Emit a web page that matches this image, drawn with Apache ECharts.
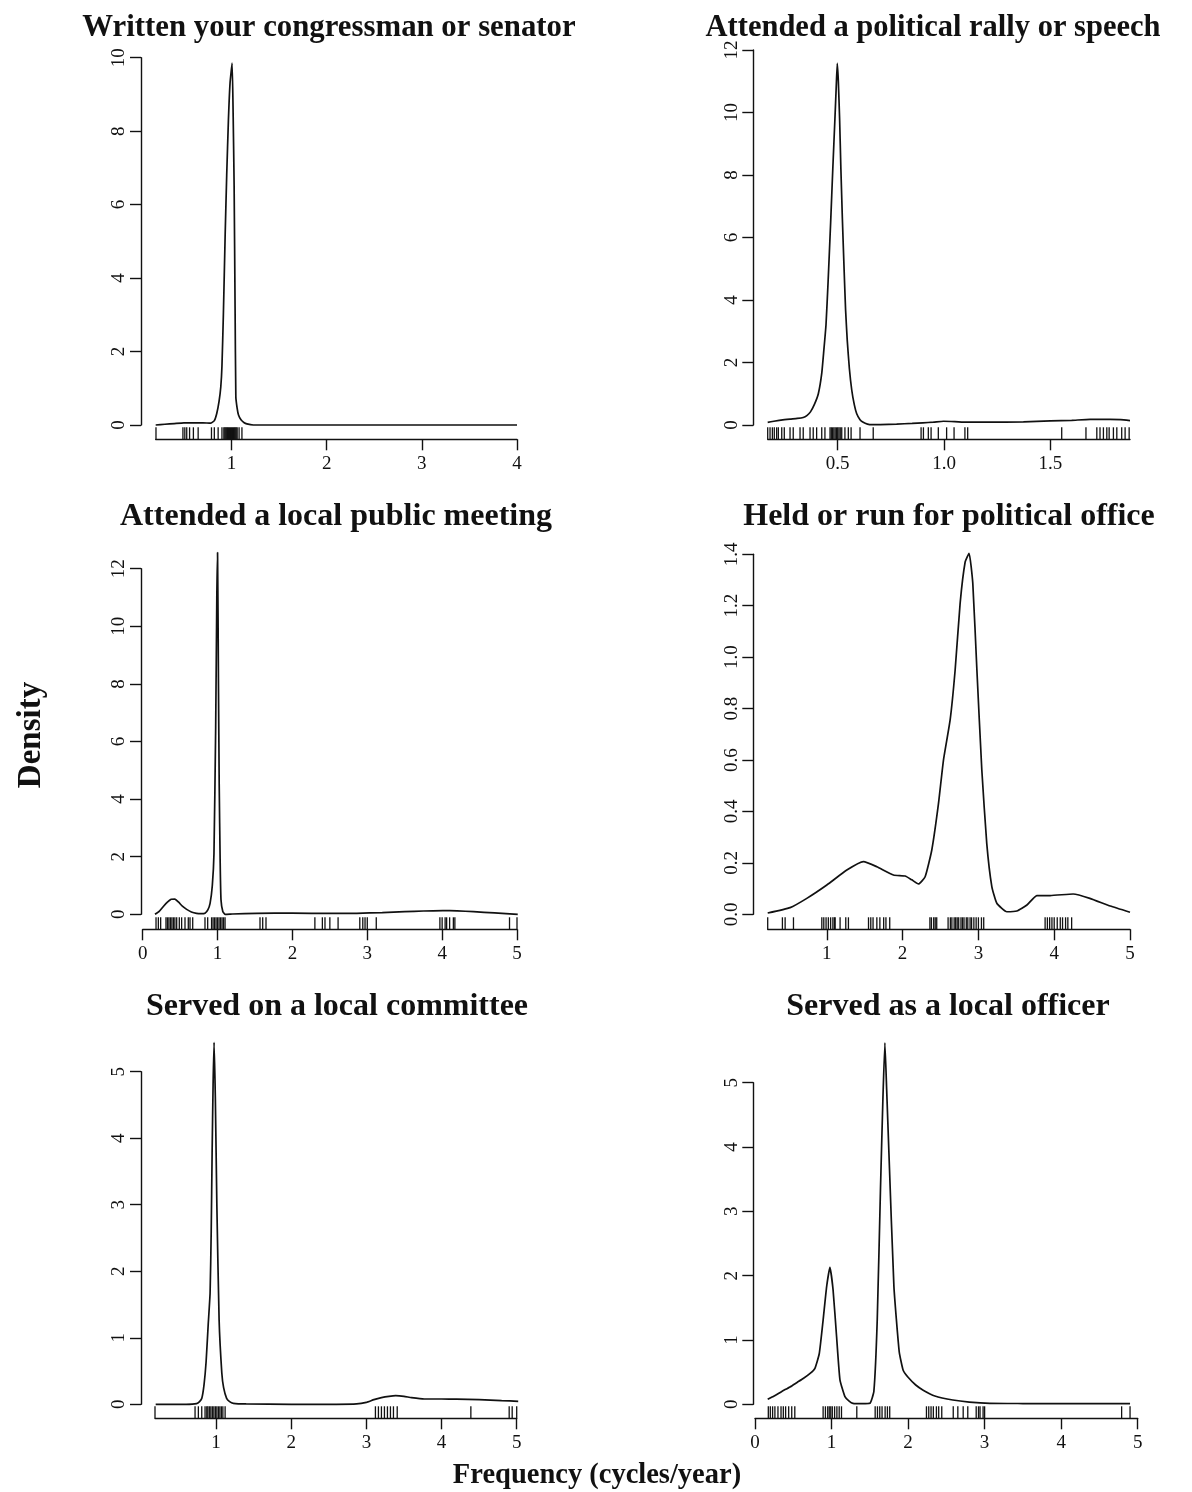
<!DOCTYPE html>
<html>
<head>
<meta charset="utf-8">
<script src="https://cdn.jsdelivr.net/npm/echarts@6/dist/echarts.min.js"></script>
<style>
  html, body { margin: 0; padding: 0; background: #fff; }
  #chart { width: 1192px; height: 1492px; }
</style>
</head>
<body>
<div id="chart"></div>
<script>
// 1. Data
const titles = [
    'Written your congressman or senator',
    'Attended a political rally or speech',
    'Attended a local public meeting',
    'Held or run for political office',
    'Served on a local committee',
    'Served as a local officer'
];

// Written your congressman or senator
const writtenX = [0.204, 0.3, 0.4, 0.5, 0.6, 0.7, 0.78, 0.82, 0.846, 0.87, 0.888, 0.9, 0.915, 0.934, 0.95, 0.968, 0.985, 1.007, 1.018, 1.028, 1.038, 1.046, 1.06, 1.074, 1.1, 1.13, 1.162, 1.23, 1.5, 2, 3, 4.0];
const writtenY = [0.0, 0.02, 0.04, 0.06, 0.06, 0.06, 0.05, 0.12, 0.32, 0.65, 1.04, 1.6, 3.0, 5.2, 6.8, 8.3, 9.3, 9.85, 8.4, 6.5, 3.2, 0.77, 0.45, 0.27, 0.14, 0.07, 0.03, 0.0, 0, 0, 0, 0];
const writtenRug = [0.207, 0.49, 0.51, 0.53, 0.56, 0.60, 0.65, 0.79, 0.82, 0.86, 0.90, 0.92, 0.93, 0.94, 0.95, 0.96, 0.97, 0.98, 0.99, 1.0, 1.01, 1.02, 1.03, 1.04, 1.05, 1.06, 1.08, 1.11];
const writtenXRange = [0.204, 4];
const writtenXTicks = [1, 2, 3, 4];
const writtenYTicks = [0, 2, 4, 6, 8, 10];

// Attended a political rally or speech
const rallyX = [0.171, 0.2, 0.25, 0.276, 0.31, 0.338, 0.355, 0.372, 0.39, 0.409, 0.425, 0.435, 0.445, 0.455, 0.467, 0.477, 0.487, 0.493, 0.498, 0.503, 0.509, 0.515, 0.522, 0.53, 0.537, 0.545, 0.555, 0.566, 0.578, 0.589, 0.605, 0.62, 0.64, 0.66, 0.7, 0.777, 0.85, 0.9, 0.95, 0.997, 1.05, 1.106, 1.2, 1.373, 1.5, 1.6, 1.686, 1.78, 1.83, 1.874];
const rallyY = [0.085, 0.12, 0.17, 0.19, 0.21, 0.24, 0.3, 0.42, 0.65, 1.0, 1.65, 2.4, 3.2, 4.6, 6.5, 8.2, 9.8, 10.8, 11.57, 11.0, 9.8, 8.2, 6.6, 5.0, 3.7, 2.7, 1.8, 1.12, 0.65, 0.37, 0.17, 0.085, 0.03, 0.01, 0.012, 0.03, 0.05, 0.07, 0.09, 0.12, 0.11, 0.09, 0.09, 0.1, 0.13, 0.15, 0.18, 0.18, 0.17, 0.14];
const rallyRug = [0.171, 0.182, 0.193, 0.202, 0.213, 0.221, 0.237, 0.249, 0.276, 0.291, 0.323, 0.338, 0.37, 0.385, 0.401, 0.425, 0.44, 0.464, 0.47, 0.476, 0.482, 0.488, 0.494, 0.5, 0.506, 0.512, 0.519, 0.534, 0.55, 0.563, 0.605, 0.667, 0.892, 0.903, 0.926, 0.939, 0.973, 1.012, 1.047, 1.098, 1.111, 1.553, 1.667, 1.718, 1.733, 1.749, 1.765, 1.776, 1.796, 1.812, 1.835, 1.851, 1.87];
const rallyXRange = [0.171, 1.874];
const rallyXTicks = [0.5, 1.0, 1.5];
const rallyYTicks = [0, 2, 4, 6, 8, 10, 12];

// Attended a local public meeting
const meetingX = [0.164, 0.22, 0.276, 0.33, 0.38, 0.43, 0.48, 0.53, 0.587, 0.65, 0.72, 0.78, 0.832, 0.87, 0.9, 0.93, 0.952, 0.975, 0.99, 1.0, 1.012, 1.022, 1.035, 1.046, 1.07, 1.1, 1.2, 1.52, 2.0, 2.5, 2.86, 3.2, 3.5, 3.75, 4.01, 4.2, 4.42, 4.7, 5.01];
const meetingY = [0.0, 0.1, 0.27, 0.42, 0.52, 0.53, 0.42, 0.28, 0.17, 0.08, 0.03, 0.02, 0.035, 0.15, 0.38, 1.0, 2.1, 6.5, 11.0, 12.56, 8.0, 4.5, 1.8, 0.5, 0.1, 0.0, 0.01, 0.035, 0.04, 0.03, 0.035, 0.06, 0.09, 0.115, 0.127, 0.12, 0.09, 0.05, 0.0];
const meetingRug = [0.178, 0.209, 0.24, 0.311, 0.33, 0.35, 0.37, 0.39, 0.41, 0.43, 0.454, 0.489, 0.52, 0.565, 0.609, 0.632, 0.668, 0.832, 0.868, 0.92, 0.94, 0.96, 0.98, 1.0, 1.02, 1.04, 1.06, 1.08, 1.1, 1.567, 1.603, 1.647, 2.3, 2.4, 2.435, 2.5, 2.61, 2.9, 2.94, 2.97, 3.0, 3.12, 3.97, 4.0, 4.04, 4.06, 4.1, 4.15, 4.17, 4.9, 5.0];
const meetingXRange = [0, 5];
const meetingXTicks = [0, 1, 2, 3, 4, 5];
const meetingYTicks = [0, 2, 4, 6, 8, 10, 12];

// Held or run for political office
const officeX = [0.22, 0.516, 0.736, 1.0, 1.264, 1.483, 1.66, 1.879, 2.033, 2.121, 2.21, 2.297, 2.385, 2.473, 2.539, 2.627, 2.693, 2.759, 2.825, 2.877, 2.926, 2.98, 3.045, 3.11, 3.177, 3.243, 3.375, 3.507, 3.64, 3.77, 3.946, 4.25, 4.47, 4.74, 5.0];
const officeY = [0.005, 0.026, 0.062, 0.114, 0.172, 0.205, 0.185, 0.153, 0.149, 0.134, 0.118, 0.146, 0.25, 0.43, 0.6, 0.756, 0.95, 1.21, 1.37, 1.404, 1.287, 0.95, 0.561, 0.276, 0.108, 0.043, 0.01, 0.013, 0.036, 0.073, 0.073, 0.079, 0.062, 0.032, 0.008];
const officeRug = [0.22, 0.414, 0.45, 0.56, 0.934, 0.96, 0.99, 1.02, 1.05, 1.08, 1.1, 1.11, 1.175, 1.25, 1.285, 1.55, 1.58, 1.61, 1.66, 1.70, 1.75, 1.78, 1.83, 2.36, 2.38, 2.41, 2.43, 2.45, 2.6, 2.63, 2.65, 2.68, 2.7, 2.72, 2.74, 2.77, 2.79, 2.81, 2.84, 2.86, 2.89, 2.91, 2.94, 2.97, 3.0, 3.04, 3.07, 3.88, 3.91, 3.94, 3.97, 4.0, 4.04, 4.08, 4.11, 4.15, 4.18, 4.23];
const officeXRange = [0.22, 5];
const officeXTicks = [1, 2, 3, 4, 5];
const officeYTicks = [0, 0.2, 0.4, 0.6, 0.8, 1.0, 1.2, 1.4];

// Served on a local committee
const committeeX = [0.196, 0.4, 0.6, 0.74, 0.78, 0.81, 0.84, 0.867, 0.895, 0.92, 0.935, 0.947, 0.96, 0.973, 0.99, 1.01, 1.04, 1.076, 1.1, 1.14, 1.18, 1.23, 1.4, 2.0, 2.6, 2.87, 3.0, 3.1, 3.2, 3.3, 3.39, 3.5, 3.6, 3.77, 4.0, 4.2, 4.5, 4.8, 5.02];
const committeeY = [0, 0, 0, 0.01, 0.04, 0.09, 0.3, 0.64, 1.2, 1.67, 2.6, 3.77, 4.8, 5.44, 4.6, 3.0, 1.27, 0.47, 0.25, 0.09, 0.04, 0.015, 0.005, 0, 0, 0.005, 0.03, 0.07, 0.1, 0.12, 0.13, 0.12, 0.1, 0.08, 0.08, 0.078, 0.07, 0.055, 0.045];
const committeeRug = [0.187, 0.72, 0.764, 0.809, 0.853, 0.876, 0.89, 0.91, 0.93, 0.95, 0.97, 0.99, 1.01, 1.03, 1.05, 1.07, 1.09, 1.12, 3.12, 3.16, 3.2, 3.24, 3.28, 3.32, 3.36, 3.41, 4.39, 4.9, 4.94, 5.0];
const committeeXRange = [0.187, 5];
const committeeXTicks = [1, 2, 3, 4, 5];
const committeeYTicks = [0, 1, 2, 3, 4, 5];

// Served as a local officer
const officerX = [0.166, 0.25, 0.35, 0.457, 0.55, 0.63, 0.72, 0.783, 0.84, 0.89, 0.936, 0.979, 1.02, 1.066, 1.11, 1.175, 1.23, 1.28, 1.4, 1.5, 1.553, 1.597, 1.64, 1.67, 1.697, 1.72, 1.75, 1.815, 1.884, 1.936, 2.0, 2.1, 2.197, 2.35, 2.585, 2.8, 3.07, 3.5, 4.0, 4.5, 4.9];
const officerY = [0.078, 0.13, 0.2, 0.27, 0.34, 0.4, 0.48, 0.56, 0.79, 1.31, 1.83, 2.13, 1.78, 1.05, 0.38, 0.12, 0.05, 0.015, 0.01, 0.015, 0.2, 1.31, 3.38, 4.7, 5.62, 4.9, 3.9, 1.83, 0.82, 0.53, 0.42, 0.3, 0.22, 0.13, 0.067, 0.035, 0.015, 0.012, 0.01, 0.01, 0.01];
const officerRug = [0.174, 0.2, 0.23, 0.26, 0.3, 0.34, 0.37, 0.4, 0.44, 0.48, 0.52, 0.89, 0.92, 0.95, 0.97, 0.99, 1.01, 1.04, 1.07, 1.1, 1.13, 1.33, 1.57, 1.6, 1.63, 1.66, 1.7, 1.73, 1.76, 2.24, 2.27, 2.3, 2.33, 2.37, 2.4, 2.44, 2.59, 2.65, 2.72, 2.78, 2.89, 2.92, 2.94, 2.98, 3.0, 4.79, 4.9];
const officerXRange = [0, 5];
const officerXTicks = [0, 1, 2, 3, 4, 5];
const officerYTicks = [0, 1, 2, 3, 4, 5];

// 2. Panels and their placement (pixels)
const panels = [
    { x: writtenX, y: writtenY, rug: writtenRug, xRange: writtenXRange, xTicks: writtenXTicks, yTicks: writtenYTicks, xDec: 0, yDec: 0 },
    { x: rallyX, y: rallyY, rug: rallyRug, xRange: rallyXRange, xTicks: rallyXTicks, yTicks: rallyYTicks, xDec: 1, yDec: 0 },
    { x: meetingX, y: meetingY, rug: meetingRug, xRange: meetingXRange, xTicks: meetingXTicks, yTicks: meetingYTicks, xDec: 0, yDec: 0 },
    { x: officeX, y: officeY, rug: officeRug, xRange: officeXRange, xTicks: officeXTicks, yTicks: officeYTicks, xDec: 0, yDec: 1 },
    { x: committeeX, y: committeeY, rug: committeeRug, xRange: committeeXRange, xTicks: committeeXTicks, yTicks: committeeYTicks, xDec: 0, yDec: 0 },
    { x: officerX, y: officerY, rug: officerRug, xRange: officerXRange, xTicks: officerXTicks, yTicks: officerYTicks, xDec: 0, yDec: 0 }
];

// grid = extent of the axis lines; yOff/xOff = gap between data origin and drawn axes
const layout = [
    { left: 155.7, top: 57.7,   width: 361.3, height: 367.3, yOff: 14.7, xOff: 14.3, tx: 329, ty: 28,   ts: 30.8 },
    { left: 767.7, top: 50,     width: 362.3, height: 375,   yOff: 14.4, xOff: 14.3, tx: 933, ty: 28,   ts: 30.5 },
    { left: 142.7, top: 568.7,  width: 374.3, height: 345.6, yOff: 1.7,  xOff: 15,   tx: 336, ty: 517,  ts: 32 },
    { left: 767.7, top: 554.3,  width: 362.3, height: 360,   yOff: 14.4, xOff: 15,   tx: 949, ty: 517,  ts: 32 },
    { left: 155,   top: 1071.7, width: 361.7, height: 332.6, yOff: 14,   xOff: 14,   tx: 337, ty: 1007, ts: 32 },
    { left: 755,   top: 1082.7, width: 382.7, height: 321.6, yOff: 1.7,  xOff: 14,   tx: 948, ty: 1007, ts: 32 }
];

const FONT = '"Liberation Serif", "Times New Roman", serif';
const INK = '#111';

const grids = [], xAxes = [], yAxes = [], series = [], titleList = [];

panels.forEach((p, i) => {
    const L = layout[i];
    grids.push({ left: L.left, top: L.top, width: L.width, height: L.height, containLabel: false, outerBoundsMode: 'none' });

    xAxes.push({
        gridIndex: i, type: 'value', min: p.xRange[0], max: p.xRange[1], offset: L.xOff,
        axisLine: { show: true, onZero: false, lineStyle: { color: INK, width: 1.4 } },
        axisTick: { show: true, length: 11, customValues: p.xTicks, lineStyle: { color: INK, width: 1.4 } },
        axisLabel: {
            customValues: p.xTicks, margin: 15, color: INK, fontFamily: FONT, fontSize: 19,
            formatter: v => Number(v).toFixed(p.xDec)
        },
        splitLine: { show: false }
    });

    yAxes.push({
        gridIndex: i, type: 'value', min: p.yTicks[0], max: p.yTicks[p.yTicks.length - 1], offset: L.yOff,
        axisLine: { show: true, onZero: false, lineStyle: { color: INK, width: 1.4 } },
        axisTick: { show: true, length: 11, customValues: p.yTicks, lineStyle: { color: INK, width: 1.4 } },
        axisLabel: {
            customValues: p.yTicks, margin: 12, rotate: 90, color: INK, fontFamily: FONT, fontSize: 19,
            formatter: v => Number(v).toFixed(p.yDec)
        },
        splitLine: { show: false }
    });

    // density curve
    series.push({
        type: 'line', xAxisIndex: i, yAxisIndex: i,
        data: p.x.map((v, k) => [v, p.y[k]]),
        symbol: 'none', smooth: 0.15, clip: false, silent: true,
        lineStyle: { color: INK, width: 1.7 }
    });

    // rug marks under the curve
    series.push({
        type: 'scatter', xAxisIndex: i, yAxisIndex: i,
        data: p.rug.map(v => [v, 0]),
        symbol: 'rect', symbolSize: [1.3, 12], symbolOffset: [0, L.xOff - 6],
        clip: false, silent: true,
        itemStyle: { color: INK, opacity: 1 }
    });

    titleList.push({
        text: titles[i], left: L.tx, top: L.ty, textAlign: 'center', textVerticalAlign: 'middle', padding: 0,
        textStyle: { fontFamily: FONT, fontWeight: 'bold', fontSize: L.ts, color: INK }
    });
});

// 3. Build chart
const chart = echarts.init(document.getElementById('chart'), null, { renderer: 'canvas' });
chart.setOption({
    backgroundColor: '#fff',
    animation: false,
    title: titleList,
    grid: grids,
    xAxis: xAxes,
    yAxis: yAxes,
    series: series,
    graphic: [
        {
            type: 'text', x: 31, y: 735, rotation: Math.PI / 2,
            style: { text: 'Density', fontFamily: FONT, fontWeight: 'bold', fontSize: 33, fill: INK, align: 'center', verticalAlign: 'middle' }
        },
        {
            type: 'text', x: 597, y: 1476,
            style: { text: 'Frequency (cycles/year)', fontFamily: FONT, fontWeight: 'bold', fontSize: 28.5, fill: INK, align: 'center', verticalAlign: 'middle' }
        }
    ]
});
</script>
</body>
</html>
